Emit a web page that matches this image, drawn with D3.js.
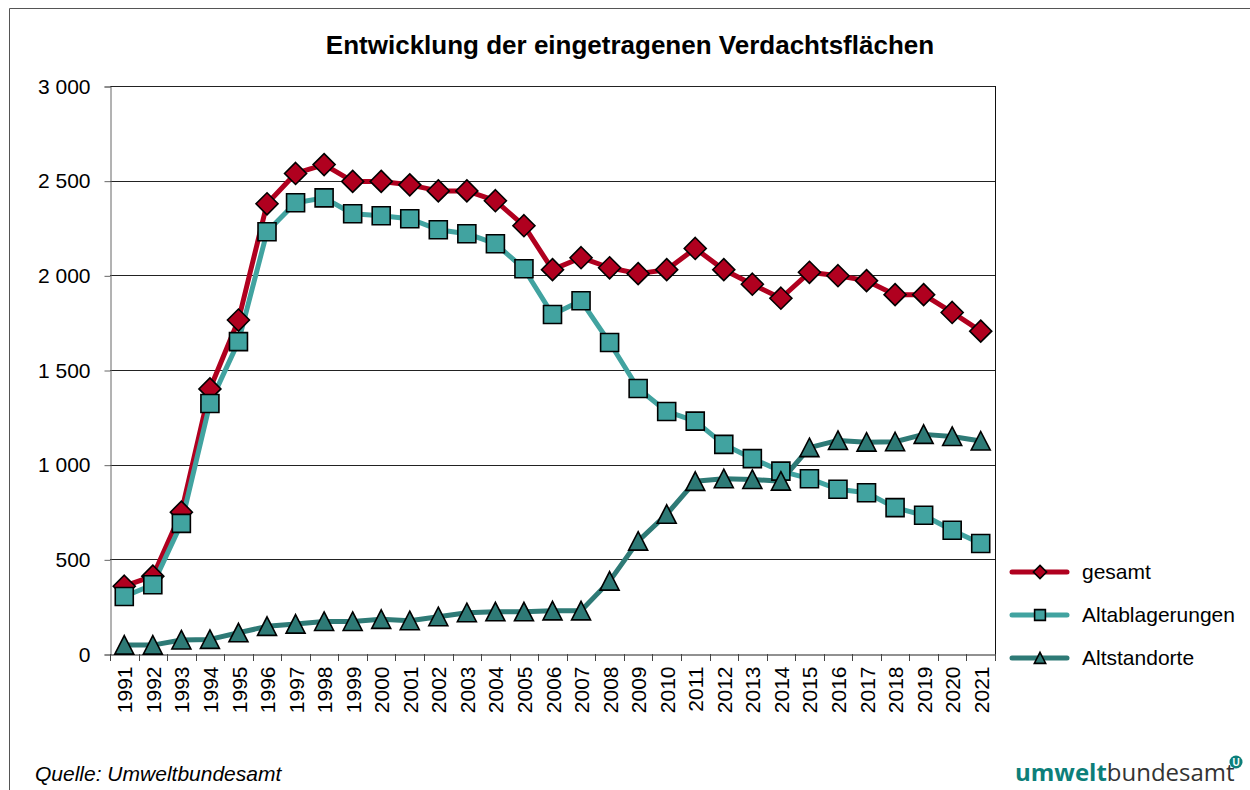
<!DOCTYPE html>
<html>
<head>
<meta charset="utf-8">
<script src="https://cdn.jsdelivr.net/npm/d3@7"></script>
<style>
  body { margin: 0; background: #fff; }
  svg { display: block; font-family: "Liberation Sans", Arial, sans-serif; }
</style>
</head>
<body>
<div id="chart"></div>
<script>
const years = d3.range(1991, 2022).map(String);

const gesamt = [358, 411, 749, 1400, 1764, 2378, 2538, 2585, 2496, 2496, 2478, 2446, 2446, 2394,
  2262, 2030, 2093, 2040, 2009, 2030, 2142, 2030, 1953, 1879, 2016, 1998, 1972, 1898, 1898, 1804, 1705];
const altablagerungen = [304, 366, 690, 1323, 1650, 2230, 2383, 2409, 2325, 2315, 2299, 2241, 2220, 2167,
  2035, 1793, 1866, 1645, 1402, 1281, 1230, 1107, 1032, 966, 926, 870, 852, 773, 733, 654, 584];
const altstandorte = [47, 47, 74, 77, 112, 146, 158, 172, 172, 183, 176, 197, 218, 223,
  223, 228, 228, 385, 596, 738, 912, 926, 922, 913, 1090, 1128, 1119, 1121, 1160, 1149, 1125];

const yTicks = [0, 500, 1000, 1500, 2000, 2500, 3000];

const series = [
  { name: "gesamt", values: gesamt, line: "#b0001f", fill: "#b0001f", symbol: "diamond" },
  { name: "Altablagerungen", values: altablagerungen, line: "#41a3a0", fill: "#41a3a0", symbol: "square" },
  { name: "Altstandorte", values: altstandorte, line: "#2e7a76", fill: "#2e7a76", symbol: "triangle" }
];

const width = 1250, height = 790;
const margin = { left: 110, top: 86, right: 255, bottom: 136 };

const svg = d3.select("#chart").append("svg")
  .attr("width", width).attr("height", height);

// outer frame
svg.append("path")
  .attr("d", `M9.5,${height} V8.5 H${width}`)
  .attr("fill", "none").attr("stroke", "#555").attr("stroke-width", 1);

const x = d3.scaleBand().domain(years)
  .range([margin.left, width - margin.right]);
const y = d3.scaleLinear().domain([0, 3000])
  .range([height - margin.bottom, margin.top]);

// gridlines
svg.append("g").selectAll("line")
  .data(yTicks.filter(d => d > 0))
  .join("line")
  .attr("x1", margin.left).attr("x2", width - margin.right)
  .attr("y1", d => Math.round(y(d)) + 0.5).attr("y2", d => Math.round(y(d)) + 0.5)
  .attr("stroke", "#222").attr("stroke-width", 1);

// right border
svg.append("line")
  .attr("x1", width - margin.right + 0.5).attr("x2", width - margin.right + 0.5)
  .attr("y1", margin.top).attr("y2", height - margin.bottom)
  .attr("stroke", "#111");

// y axis
const fmt = d => d3.format(",")(d).replace(/,/g, " ");
const yAxis = svg.append("g")
  .attr("transform", `translate(${margin.left + 0.5},0.5)`)
  .call(d3.axisLeft(y).tickValues(yTicks).tickSize(6).tickPadding(14).tickFormat(fmt));
yAxis.select(".domain").attr("stroke", "#666");
yAxis.selectAll(".tick line").attr("stroke", "#666");
yAxis.selectAll("text").attr("font-size", 21).attr("fill", "#000")
  .attr("font-family", "Liberation Sans, Arial, sans-serif");

// x axis
const xAxis = svg.append("g")
  .attr("transform", `translate(0.5,${y(0) + 0.5})`)
  .call(d3.axisBottom(x).tickSize(0).tickPadding(0));
xAxis.select(".domain").attr("stroke", "#222");
xAxis.selectAll(".tick line").remove();
xAxis.selectAll(".tick text")
  .attr("font-size", 21).attr("fill", "#000")
  .attr("font-family", "Liberation Sans, Arial, sans-serif")
  .attr("transform", "rotate(-90)")
  .attr("text-anchor", "end")
  .attr("dy", "0.36em")
  .attr("x", -12).attr("y", 0);
// x tick marks at band boundaries
svg.append("g").selectAll("line")
  .data(years.concat(["end"]))
  .join("line")
  .attr("x1", (d, i) => Math.round(margin.left + i * x.step()) + 0.5)
  .attr("x2", (d, i) => Math.round(margin.left + i * x.step()) + 0.5)
  .attr("y1", y(0)).attr("y2", y(0) + 7)
  .attr("stroke", "#444");

const cx = d => x(d) + x.bandwidth() / 2;

const symbolPath = (type) => {
  if (type === "diamond") return "M0,-11L11,0L0,11L-11,0Z";
  if (type === "square") return "M-9,-9H9V9H-9Z";
  return "M0,-9.5L9.5,9L-9.5,9Z";
};

const line = d3.line().x((d, i) => cx(years[i])).y(d => y(d));

series.forEach(s => {
  svg.append("path")
    .datum(s.values)
    .attr("d", line)
    .attr("fill", "none")
    .attr("stroke", s.line)
    .attr("stroke-width", 5)
    .attr("stroke-linejoin", "round");
});
series.forEach(s => {
  svg.append("g").selectAll("path")
    .data(s.values)
    .join("path")
    .attr("transform", (d, i) => `translate(${cx(years[i])},${y(d)})`)
    .attr("d", symbolPath(s.symbol))
    .attr("fill", s.fill)
    .attr("stroke", "#000")
    .attr("stroke-width", 1.6)
    .attr("stroke-linejoin", "miter");
});

// title
svg.append("text")
  .attr("x", 630).attr("y", 54)
  .attr("text-anchor", "middle")
  .attr("font-size", 26).attr("font-weight", "bold")
  .text("Entwicklung der eingetragenen Verdachtsflächen");

// legend
const legend = svg.append("g").selectAll("g")
  .data(series)
  .join("g")
  .attr("transform", (d, i) => `translate(1012,${572 + i * 43})`);
legend.append("line")
  .attr("x1", 0).attr("x2", 55).attr("y1", 0).attr("y2", 0)
  .attr("stroke", d => d.line).attr("stroke-width", 5).attr("stroke-linecap", "round");
legend.append("path")
  .attr("transform", "translate(28,0) scale(0.6)")
  .attr("d", d => symbolPath(d.symbol))
  .attr("fill", d => d.fill).attr("stroke", "#000").attr("stroke-width", 2.6);
legend.append("text")
  .attr("x", 70).attr("y", 0).attr("dy", "0.35em")
  .attr("font-size", 21)
  .text(d => d.name);

// source
svg.append("text")
  .attr("x", 35).attr("y", 781)
  .attr("font-size", 21).attr("font-style", "italic")
  .text("Quelle: Umweltbundesamt");

// logo
const logo = svg.append("text")
  .attr("x", 1015).attr("y", 781)
  .attr("font-family", "Open Sans, DejaVu Sans, sans-serif")
  .attr("font-size", 24);
logo.append("tspan").attr("fill", "#0d7f7a").attr("font-weight", "bold").text("umwelt");
logo.append("tspan").attr("fill", "#333").attr("font-weight", "normal").text("bundesamt");
svg.append("circle").attr("cx", 1236).attr("cy", 762).attr("r", 6.5).attr("fill", "#0d7f7a");
svg.append("text").attr("x", 1236).attr("y", 766)
  .attr("text-anchor", "middle").attr("font-size", 10).attr("font-weight", "bold")
  .attr("fill", "#fff").text("U");
</script>
</body>
</html>
